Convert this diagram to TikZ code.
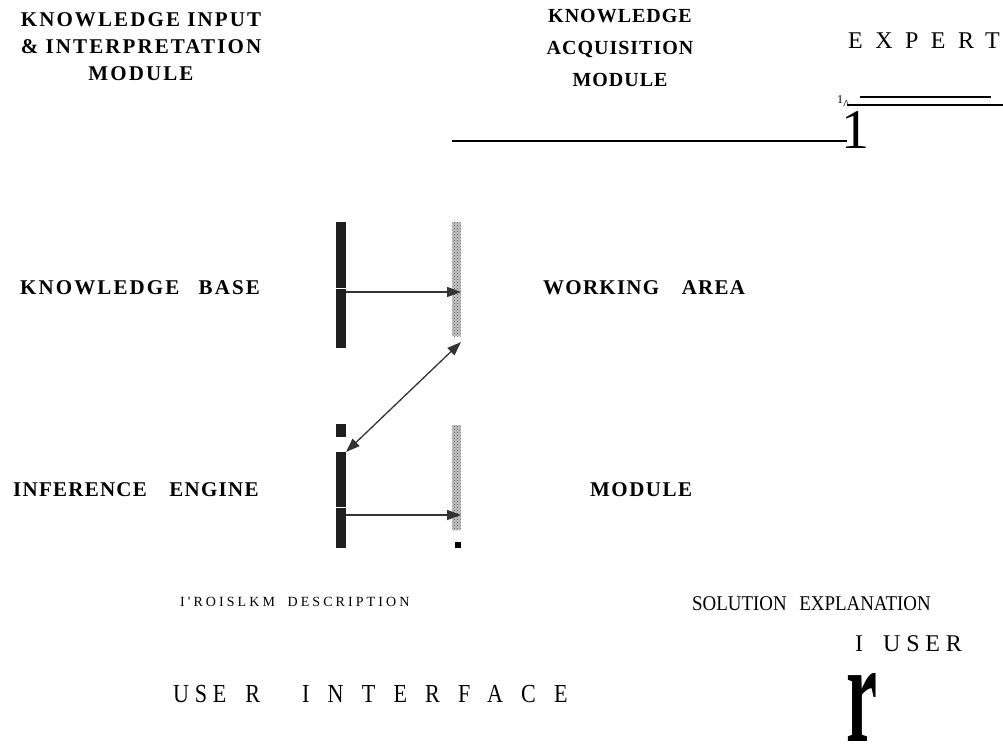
\documentclass[tikz,border=0pt]{standalone}
\usepackage{fontspec}
\usepackage{graphicx}
\setmainfont{Liberation Serif}
\usetikzlibrary{arrows.meta,patterns}
\newfontfamily\tms{Liberation Serif}
\newfontfamily\bA[LetterSpace=10]{Liberation Serif}
\newfontfamily\bB[LetterSpace=5]{Liberation Serif}
\newfontfamily\bC[LetterSpace=10]{Liberation Serif}
\newfontfamily\bD[LetterSpace=6]{Liberation Serif}
\newfontfamily\bE[LetterSpace=7]{Liberation Serif}
\newfontfamily\rE[LetterSpace=52]{Liberation Serif}
\newfontfamily\rP[LetterSpace=22]{Liberation Serif}
\newfontfamily\rS[FakeStretch=0.9]{Liberation Serif}
\newfontfamily\rU[LetterSpace=24]{Liberation Serif}
\newfontfamily\rUa[FakeStretch=0.85,LetterSpace=22]{Liberation Serif}
\newfontfamily\rI[FakeStretch=0.85,LetterSpace=70]{Liberation Serif}
\newcommand\fsz[1]{\fontsize{#1}{#1}\selectfont}
\begin{document}
\begin{tikzpicture}[x=1pt,y=-1pt,
  lbl/.style={inner sep=0pt,anchor=base west},
  hdr/.style={inner sep=0pt,anchor=north,align=center},
  bar/.style={fill=black!88,draw=none,inner sep=0pt,minimum width=9.5pt,anchor=north west},
  dotbar/.style={fill=black!22,postaction={pattern=crosshatch dots,pattern color=black!75},draw=none,inner sep=0pt,minimum width=8.5pt,anchor=north west},
  arr/.style={draw=black!80,line width=1.3pt,-{Triangle[length=14pt,width=10pt]}},
  darr/.style={draw=black!80,line width=1.3pt,{Triangle[length=14pt,width=10pt]}-{Triangle[length=14pt,width=10pt]}},
  rulethin/.style={draw=black,line width=1.1pt},
  rulethick/.style={draw=black,line width=2.6pt}]
\useasboundingbox (0,0) rectangle (1003,749);
% headings
\node[hdr,font=\bA\bfseries\fontsize{21}{27}\selectfont] (hin) at (141,12) {KNOWLEDGE INPUT\\\& INTERPRETATION\\MODULE};
\node[hdr,font=\bB\bfseries\fontsize{20}{32}\selectfont] (hacq) at (620,9) {KNOWLEDGE\\ACQUISITION\\MODULE};
\node[lbl,font=\rE\fsz{24}] (exp) at (848,49) {EXPERT};
% expert marks
\node[lbl,font=\tms] (one) at (837,103) {\fsz{12}1\fsz{14}\raisebox{-6pt}{\textasciicircum}};
\coordinate (t1) at (860,97); \coordinate (t2) at (991,97);
\draw[rulethick] (t1) -- (t2);
\coordinate (u1) at (847,105); \coordinate (u2) at (1003,105);
\draw[rulethin] (u1) -- (u2);
\node[lbl,font=\tms\fsz{56}] (bigone) at (841,148) {\raisebox{0pt}[37pt][0pt]{1}};
\coordinate (l1) at (452,141); \coordinate (l2) at (847,141);
\draw[rulethin] (l1) -- (l2);
% bars
\node[bar,minimum height=126pt] (kbar) at (336,222) {};
\draw[white,line width=1pt] (kbar.west |- 0,288) -- (kbar.east |- 0,288);
\node[dotbar,minimum height=114pt] (wbar) at (452,222) {};
\coordinate (a1s) at (345.5,292); \coordinate (a1e) at (461,292);
\draw[arr] (a1s) -- (a1e);
\coordinate (d1) at (346,452); \coordinate (d2) at (461,342);
\draw[darr] (d1) -- (d2);
\node[bar,minimum height=13pt] (ibar0) at (336,424) {};
\node[bar,minimum height=96pt] (ibar) at (336,452) {};
\draw[white,line width=1pt] (ibar.west |- 0,507) -- (ibar.east |- 0,507);
\node[dotbar,minimum height=105pt] (mbar) at (452,425) {};
\coordinate (a2s) at (345.5,515); \coordinate (a2e) at (461,515);
\draw[arr] (a2s) -- (a2e);
\node[fill=black,draw=none,inner sep=0pt,minimum size=6pt,anchor=north west] (sq) at (455,542) {};
% labels
\node[lbl,font=\bC\bfseries\fsz{21}] (kbl) at (20,294) {KNOWLEDGE\hspace{12pt} BASE};
\node[lbl,font=\bD\bfseries\fsz{21}] (wal) at (543,294) {WORKING\hspace{16pt} AREA};
\node[lbl,font=\bD\bfseries\fsz{21}] (iel) at (13,496) {INFERENCE\hspace{16pt} ENGINE};
\node[lbl,font=\bE\bfseries\fsz{21}] (mol) at (590,496) {MODULE};
\node[lbl,font=\rP\fsz{14}] (pdl) at (180,606) {I'ROISLKM\hspace{6pt} DESCRIPTION};
\node[lbl,font=\rS\fsz{21}] (sel) at (692,610) {SOLUTION\hspace{8pt} EXPLANATION};
\node[lbl,font=\rU\fsz{24}] (usl) at (855,651) {I\hspace{20pt}USER};
\node[lbl,font=\fsz{26}] (uil) at (173,702) {{\rUa USE}\hspace{19pt}{\rI R}\hspace{42pt}{\rI INTERFACE}};
\node[lbl,font=\tms\bfseries] (rr) at (846,741) {\resizebox{31pt}{68pt}{r}};
\end{tikzpicture}
\end{document}
